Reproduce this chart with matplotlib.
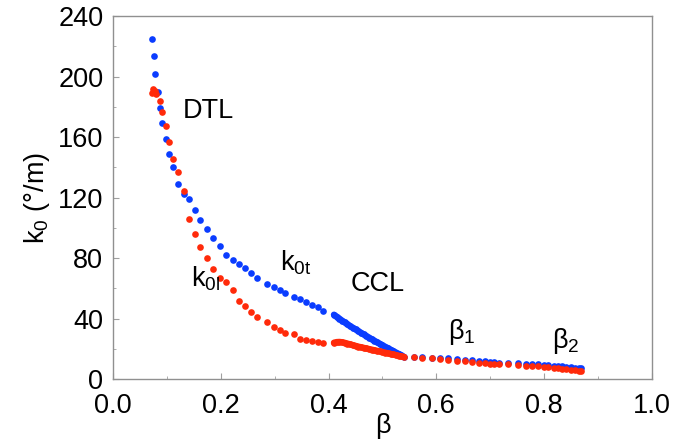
import numpy as np
import matplotlib.pyplot as plt
from matplotlib.ticker import MultipleLocator

plt.rcParams['font.family'] = ['Liberation Sans', 'DejaVu Sans']
plt.rcParams['mathtext.fontset'] = 'custom'
plt.rcParams['mathtext.rm'] = 'Liberation Sans'
plt.rcParams['mathtext.it'] = 'Liberation Sans'

# DTL section
dtl_beta_t = [0.073, 0.076, 0.078, 0.083, 0.087, 0.091, 0.098, 0.104, 0.111, 0.120,
              0.131, 0.141, 0.152, 0.162, 0.175, 0.186, 0.198, 0.210, 0.222, 0.233,
              0.245, 0.256, 0.268, 0.286, 0.298, 0.309, 0.319, 0.336, 0.347, 0.358,
              0.369, 0.380, 0.390]
dtl_k0t = [225, 213.5, 202, 190, 179, 169, 159, 149, 140, 129,
           122, 119, 112, 105, 99, 93.5, 88, 82, 79, 76,
           73.5, 70, 67, 63, 61, 59, 57, 54, 53, 51,
           49, 47.4, 45]
dtl_beta_l = [0.072, 0.075, 0.077, 0.080, 0.087, 0.091, 0.098, 0.104, 0.111, 0.120,
              0.131, 0.141, 0.152, 0.162, 0.175, 0.186, 0.198, 0.210, 0.222, 0.233,
              0.245, 0.256, 0.268, 0.286, 0.298, 0.309, 0.319, 0.336, 0.347, 0.358,
              0.369, 0.380, 0.390]
dtl_k0l = [189, 191.5, 190.5, 188.5, 184, 176.5, 167, 157, 145.5, 137,
           124, 105.5, 96, 87, 80, 73, 67, 64, 59, 51.5,
           48, 44.5, 41, 38, 34.5, 32.4, 30.6, 29.5, 26.4, 25.5,
           25, 24.4, 23.5]

# CCL section
ccl_beta = [0.410, 0.415, 0.420, 0.425, 0.430, 0.435, 0.440, 0.445, 0.450, 0.455,
            0.460, 0.465, 0.470, 0.475, 0.480, 0.485, 0.490, 0.495, 0.500, 0.505,
            0.510, 0.515, 0.520, 0.525, 0.530, 0.535, 0.540]
ccl_k0t = [42.5, 41.2, 39.9, 38.6, 37.4, 36.2, 35.0, 33.9, 32.8, 31.7,
           30.6, 29.5, 28.4, 27.4, 26.3, 25.3, 24.3, 23.3, 22.3, 21.3,
           20.4, 19.4, 18.5, 17.5, 16.6, 15.6, 14.6]
ccl_k0l = [24.0, 24.4, 24.5, 24.3, 23.9, 23.4, 22.9, 22.4, 21.9, 21.4,
           21.0, 20.6, 20.2, 19.8, 19.4, 19.0, 18.6, 18.2, 17.8, 17.4,
           17.0, 16.6, 16.2, 15.8, 15.4, 15.0, 14.6]

# beta1 / beta2 sections
sc_beta = [0.559, 0.574, 0.591, 0.606, 0.622, 0.639, 0.654, 0.667, 0.679, 0.690,
           0.699, 0.707, 0.716, 0.733, 0.752, 0.766, 0.778, 0.788, 0.799, 0.808,
           0.818, 0.826, 0.833, 0.841, 0.849, 0.857, 0.864, 0.869]
sc_k0t = [14.6, 14.4, 14.2, 14.0, 13.6, 13.2, 12.8, 12.4, 12.0, 11.6,
          11.3, 11.0, 10.8, 10.6, 10.4, 10.1, 9.9, 9.7, 9.4, 9.2,
          8.9, 8.6, 8.3, 8.1, 7.8, 7.5, 7.3, 7.1]
sc_k0l = [14.3, 14.0, 13.7, 13.3, 12.8, 12.2, 11.6, 11.1, 10.7, 10.3,
          10.0, 9.9, 9.8, 9.6, 9.2, 8.9, 8.6, 8.3, 8.0, 7.7,
          7.4, 7.1, 6.8, 6.5, 6.2, 5.9, 5.6, 5.3]

blue = '#0a3cff'
red = '#ff2a0a'

fig = plt.figure(figsize=(6.83, 4.41), dpi=100)
ax = fig.add_axes([0.1655, 0.1406, 0.789, 0.823])

mk = dict(marker='o', linestyle='none', markersize=4.8, markeredgewidth=0)
# CCL cells are so dense the dots merge into a band
band = dict(marker='o', linestyle='-', linewidth=4.6, markersize=4.8,
            markeredgewidth=0, solid_capstyle='round')
ax.plot(dtl_beta_t, dtl_k0t, color=blue, **mk)
ax.plot(ccl_beta, ccl_k0t, color=blue, **band)
ax.plot(sc_beta, sc_k0t, color=blue, **mk)
ax.plot(dtl_beta_l, dtl_k0l, color=red, **mk)
ax.plot(ccl_beta, ccl_k0l, color=red, **band)
ax.plot(sc_beta, sc_k0l, color=red, **mk)

fs = 19.5
ax.text(0.129, 177, 'DTL', fontsize=fs, va='center')
ax.text(0.309, 77, r'k$_\mathrm{0t}$', fontsize=fs, va='center')
ax.text(0.145, 66, r'k$_\mathrm{0l}$', fontsize=fs, va='center')
ax.text(0.441, 63, 'CCL', fontsize=fs, va='center')
ax.text(0.622, 31, r'β$_\mathrm{1}$', fontsize=fs, va='center')
ax.text(0.814, 25, r'β$_\mathrm{2}$', fontsize=fs, va='center')

ax.set_xlim(0, 1.0)
ax.set_ylim(0, 240)
ax.xaxis.set_major_locator(MultipleLocator(0.2))
ax.xaxis.set_minor_locator(MultipleLocator(0.1))
ax.yaxis.set_major_locator(MultipleLocator(40))
ax.yaxis.set_minor_locator(MultipleLocator(20))
ax.set_xticks(np.arange(0, 1.01, 0.2))
ax.set_xticklabels(['0.0', '0.2', '0.4', '0.6', '0.8', '1.0'])

ax.tick_params(which='both', direction='in', color='#a0a0a0', labelsize=fs)
ax.tick_params(which='major', length=4)
ax.tick_params(which='minor', length=2.5)
ax.tick_params(axis='x', pad=10)
ax.tick_params(axis='y', pad=7)
for s in ax.spines.values():
    s.set_color('#909090')
    s.set_linewidth(1.0)

ax.set_xlabel('β', fontsize=fs, labelpad=-4)
ax.set_ylabel(r'k$_\mathrm{0}$ (°/m)', fontsize=fs, labelpad=4)

fig.savefig('out.png', dpi=100)
